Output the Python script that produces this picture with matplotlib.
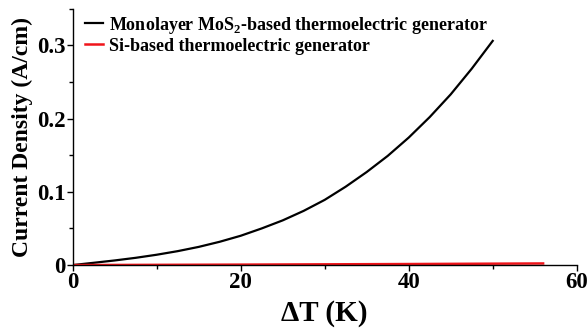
import matplotlib
matplotlib.use("Agg")
import matplotlib.pyplot as plt
from matplotlib.ticker import MultipleLocator

plt.rcParams["font.family"] = ["Liberation Serif", "DejaVu Serif"]
plt.rcParams["font.weight"] = "bold"
plt.rcParams["mathtext.fontset"] = "custom"
plt.rcParams["mathtext.rm"] = "Liberation Serif:bold"
plt.rcParams["mathtext.bf"] = "Liberation Serif:bold"

# Temperature difference (K)
delta_t_mos2 = [0, 2.5, 5, 7.5, 10, 12.5, 15, 17.5, 20, 22.5, 25, 27.5,
                30, 32.5, 35, 37.5, 40, 42.5, 45, 47.5, 50]
# Current density of the monolayer MoS2 generator (A/cm)
current_mos2 = [0, 0.0031, 0.0063, 0.0099, 0.0141, 0.0190, 0.0248, 0.0318,
                0.040, 0.050, 0.061, 0.074, 0.089, 0.107, 0.127, 0.149,
                0.174, 0.202, 0.233, 0.268, 0.306]

delta_t_si = [0, 10, 20, 30, 40, 50, 56]
current_si = [0, 0.0003, 0.0006, 0.0010, 0.0014, 0.0019, 0.0022]

label_mos2 = r"Monolayer MoS$_\mathbf{2}$-based thermoelectric generator"
label_si = "Si-based thermoelectric generator"

fig = plt.figure(figsize=(5.88, 3.33), dpi=100)
ax = fig.add_axes([0.1236, 0.204, 0.8572, 0.770])

ax.plot(delta_t_mos2, current_mos2, color="black", lw=1.6, label=label_mos2)
ax.plot(delta_t_si, current_si, color="#f0141a", lw=1.8, label=label_si)

ax.set_xlim(0, 60)
ax.set_ylim(0, 0.35)
ax.xaxis.set_major_locator(MultipleLocator(20))
ax.xaxis.set_minor_locator(MultipleLocator(10))
ax.yaxis.set_major_locator(MultipleLocator(0.1))
ax.yaxis.set_minor_locator(MultipleLocator(0.05))
ax.set_yticks([0, 0.1, 0.2, 0.3])
ax.set_yticklabels(["0", "0.1", "0.2", "0.3"])

for side in ("top", "right"):
    ax.spines[side].set_visible(False)
for side in ("left", "bottom"):
    ax.spines[side].set_linewidth(1.0)

ax.tick_params(which="major", direction="out", length=4, width=1.0,
               labelsize=16.5, pad=1)
ax.tick_params(which="minor", direction="out", length=3, width=1.0)
for lab in ax.get_xticklabels() + ax.get_yticklabels():
    lab.set_fontweight("bold")

ax.set_xlabel(r"ΔT (K)", fontsize=21, fontweight="bold", labelpad=5)
ax.set_ylabel("Current Density (A/cm)", fontsize=17, fontweight="bold",
              labelpad=3)

leg = ax.legend(loc="upper left", bbox_to_anchor=(0.01, 1.005), frameon=False,
                fontsize=13, handlelength=1.0, handletextpad=0.35,
                labelspacing=0.12, borderaxespad=0)
for t in leg.get_texts():
    t.set_fontweight("bold")

fig.savefig("out.png", dpi=100)
